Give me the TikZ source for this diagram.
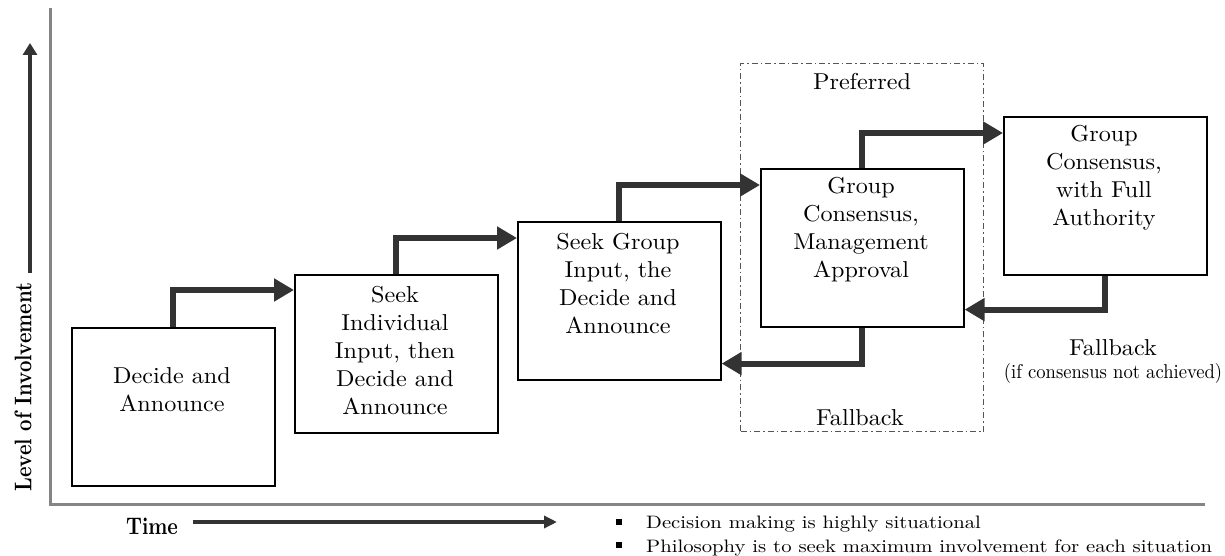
\documentclass[tikz,border=0pt]{standalone}
\usepackage{fontspec}
\setmainfont{lmroman10-regular.otf}[FakeStretch=1.05]
\newfontfamily\labelfont{lmroman10-bold.otf}[FakeStretch=0.83]
\newfontfamily\notefont{lmroman10-regular.otf}[FakeStretch=1.15]
\newfontfamily\smallnotefont{lmroman10-regular.otf}[FakeStretch=0.93]
\usetikzlibrary{arrows.meta}
\definecolor{ink}{HTML}{333333}
\definecolor{axisgray}{HTML}{858585}
\definecolor{frame}{HTML}{555555}

\begin{document}
\begin{tikzpicture}[x=1pt,y=-1pt,
  stepbox/.style={draw=black, line width=1.6pt, minimum width=203pt,
    minimum height=158pt, inner sep=0pt, anchor=north west},
  boxtext/.style={align=center, inner sep=0pt,
    font=\fontsize{23}{28}\selectfont},
  plain/.style={inner sep=0pt, font=\fontsize{23}{28}\selectfont},
  conn/.style={draw=ink, line width=6pt,
    -{Triangle[length=20pt,width=22pt]}},
  axislabel/.style={inner sep=0pt, font=\labelfont\fontsize{24}{28}\selectfont},
  bullettext/.style={anchor=base west, inner sep=0pt,
    font=\notefont\fontsize{18}{22}\selectfont},
  bulletmark/.style={fill=black, minimum size=6pt, inner sep=0pt}]

\useasboundingbox[fill=white] (0,0) rectangle (1225,556);

% preferred / fallback zone
\node[draw=frame, line width=1pt,
  dash pattern=on 6pt off 3pt on 1.5pt off 3pt,
  minimum width=243pt, minimum height=368pt, inner sep=0pt,
  anchor=north west] (zone) at (740,63) {};
\node[plain] (preferred) at (862,82) {Preferred};
\node[plain] (fallbackin) at (860,418) {Fallback};

% axes
\coordinate (ytop) at (50,8);
\coordinate (origin) at (50,504);
\coordinate (xend) at (1205,504);
\draw[axisgray, line width=3pt] (ytop) -- (origin) -- (xend);

% vertical axis label and arrow
\node[axislabel, rotate=90] (level) at (23,387) {Level of Involvement};
\coordinate (lvlstart) at (30,273);
\coordinate (lvlend) at (30,43);
\draw[ink, line width=4pt, -{Triangle[length=12pt,width=14pt]}] (lvlstart) -- (lvlend);

% horizontal axis label and arrow
\node[axislabel] (time) at (152,526) {Time};
\coordinate (tstart) at (193,522);
\coordinate (tend) at (557,522);
\draw[ink, line width=4pt, -{Triangle[length=13pt,width=12pt]}] (tstart) -- (tend);

% decision styles
\node[stepbox] (b1) at (71,327) {};
\node[stepbox] (b2) at (294,274) {};
\node[stepbox] (b3) at (517,221) {};
\node[stepbox] (b4) at (760,168) {};
\node[stepbox] (b5) at (1003,116) {};

\node[boxtext] (t1) at (172,390) {Decide and\\Announce};
\node[boxtext] (t2) at (395,351) {Seek\\Individual\\Input, then\\Decide and\\Announce};
\node[boxtext] (t3) at (618,284) {Seek Group\\Input, the\\Decide and\\Announce};
\node[boxtext] (t4) at (861,230) {Group\\Consensus,\\Management\\Approval};
\node[boxtext] (t5) at (1104,178) {Group\\Consensus,\\with Full\\Authority};

% escalation steps
\draw[conn] (b1.north) |- ([yshift=-16pt]b2.north west);
\draw[conn] (b2.north) |- ([yshift=-17pt]b3.north west);
\draw[conn] (b3.north) |- ([yshift=-17pt]b4.north west);
\draw[conn] (b4.north) |- ([yshift=-17pt]b5.north west);

% fallback steps
\draw[conn] (b5.south) |- ([yshift=18pt]b4.south east);
\draw[conn] (b4.south) |- ([yshift=17pt]b3.south east);

\node[plain] (fallbackout) at (1113,348) {Fallback};
\node[inner sep=0pt, font=\smallnotefont\fontsize{20}{22}\selectfont] (fbnote) at (1113,373)
  {(if consensus not achieved)};

% notes
\node[bulletmark] (m1) at (619,522) {};
\node[bulletmark] (m2) at (619,545) {};
\node[bullettext] (n1) at (646,528) {Decision making is highly situational};
\node[bullettext] (n2) at (646,552) {Philosophy is to seek maximum involvement for each situation};

\end{tikzpicture}
\end{document}
